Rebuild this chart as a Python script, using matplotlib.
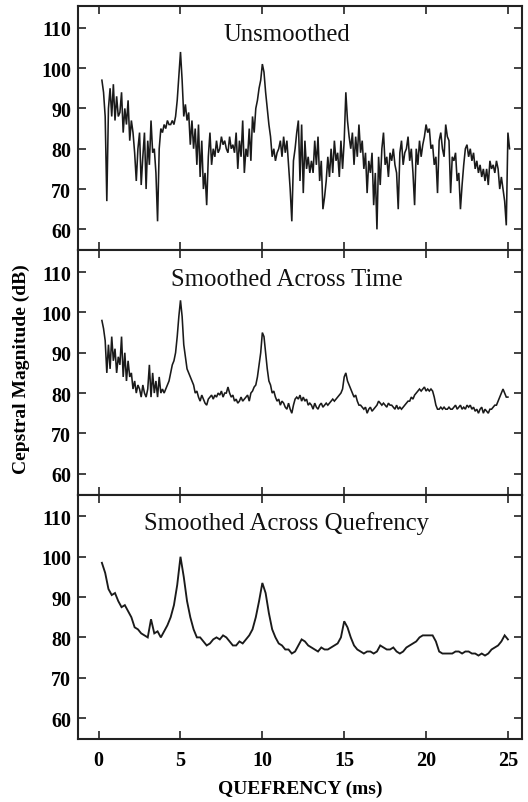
import numpy as np
import matplotlib
matplotlib.use("Agg")
import matplotlib.pyplot as plt

# ---------------- data ----------------
panel_titles = ["Unsmoothed", "Smoothed Across Time", "Smoothed Across Quefrency"]
x_ticks = [0, 5, 10, 15, 20, 25]
y_ticks = [60, 70, 80, 90, 100, 110]

# Unsmoothed cepstrum, samples every 0.1 ms starting at 0.2 ms
unsmoothed = [
    97, 94, 88, 67, 90, 95, 88, 96,
    87, 93, 88, 89, 94, 84, 90, 86, 92, 82,
    87, 84, 79, 72, 80, 84, 71, 78, 84, 70,
    82, 76, 87, 79, 80, 74, 62, 80, 85, 84,
    86, 85, 87, 86, 86, 87, 86, 88, 92, 98,
    104, 97, 88, 91, 87, 89, 81, 87, 80, 85,
    76, 86, 73, 82, 70, 74, 66, 78, 84, 76,
    80, 78, 82, 79, 80, 83, 81, 82, 80, 79,
    83, 80, 81, 79, 84, 75, 82, 78, 87, 74,
    80, 78, 85, 77, 88, 84, 90, 92, 95, 97,
    101, 99, 94, 90, 86, 83, 78, 80, 77, 79,
    80, 82, 78, 83, 79, 82, 76, 70, 62, 77,
    80, 84, 87, 72, 86, 69, 82, 75, 78, 74,
    77, 74, 82, 76, 83, 72, 77, 65, 68, 72,
    78, 73, 80, 74, 82, 77, 79, 73, 82, 75,
    82, 94, 87, 83, 80, 84, 76, 83, 78, 86,
    79, 82, 75, 79, 69, 77, 74, 79, 66, 74,
    60, 78, 71, 80, 84, 76, 78, 73, 79, 77,
    80, 76, 74, 65, 79, 82, 76, 79, 80, 83,
    77, 80, 74, 66, 80, 76, 82, 78, 81, 83,
    86, 84, 85, 80, 81, 76, 78, 69, 82, 84,
    80, 78, 86, 83, 82, 69, 78, 77, 79, 72,
    74, 65, 71, 76, 80, 81, 78, 80, 77, 79,
    75, 77, 74, 76, 73, 75, 72, 75, 71, 77,
    75, 76, 74, 77, 75, 70, 73, 70, 67, 61,
    84, 80,
]

# Smoothed across time, samples every 0.1 ms starting at 0.2 ms
smoothed_time = [
    98, 96, 93, 85, 92, 86, 94, 88,
    91, 85, 89, 87, 94, 84, 90, 83, 88, 84,
    85, 81, 83, 80, 82, 81, 79, 82, 80, 79,
    81, 87, 79, 85, 80, 83, 79, 84, 80, 81,
    80, 81, 82, 83, 85, 87, 88, 90, 94, 99,
    103, 99, 92, 89, 86, 85, 84, 83, 82, 80,
    80.5, 79, 78, 79.5, 78.5, 77.5, 77, 78.5, 79, 79.5,
    78.5, 79.5, 79, 80, 79.5, 80.5, 79, 80, 80, 81.5,
    80, 79, 79.5, 78, 78.5, 77.5, 78, 79, 78, 78.5,
    79, 79.5, 78, 80, 80.5, 81.5, 82, 84, 87, 90,
    95, 94, 90, 86, 83, 82, 80, 80.5, 79, 78,
    78.5, 77, 78, 77.5, 76.5, 76, 77.5, 76, 75, 77,
    78.5, 79, 78.5, 79.5, 78, 79, 78, 78.5, 77, 77.5,
    77, 76, 77.5, 76.5, 76, 77, 77.5, 76.5, 77, 77.5,
    77, 77.5, 78, 78.5, 78, 78.5, 79, 79.5, 80, 81,
    84, 85, 83, 82, 81, 80, 79, 79.5, 78, 77,
    77, 76.5, 76, 76.5, 75, 76, 76.5, 75.5, 76, 76.5,
    77, 78, 77.5, 77, 77.5, 77, 76.5, 77.5, 77, 77,
    76.5, 76, 77, 76, 76.5, 76, 76.5, 77, 77.5, 78,
    78, 79, 78.5, 79.5, 80, 80.5, 81, 80.5, 81, 81.5,
    80.5, 81, 80.5, 81, 80.5, 79, 77, 76, 76, 76.5,
    76, 76.5, 76, 76, 76.5, 76, 76, 76.5, 77, 76,
    76.5, 77, 76, 76.5, 76, 77, 76.5, 77, 76, 76.5,
    75.5, 76, 75, 76, 76.5, 75, 76, 75.5, 75, 76,
    76, 76.5, 77, 77, 78, 79, 80, 81, 80, 79,
    79,
]

# Smoothed across quefrency, samples every 0.2 ms starting at 0.2 ms
smoothed_quef = [
    98.5, 96, 92, 90.5,
    91, 89, 87.5, 88, 86.5,
    85, 82.5, 82, 81, 80.5,
    80, 84.5, 81, 81.5, 80,
    81.5, 83, 85, 88, 93,
    100, 95, 89, 85, 82,
    80, 80, 79, 78, 78.5,
    79.5, 80, 79.5, 80.5, 80,
    79, 78, 78, 79, 78.5,
    79.5, 80.5, 82, 85, 89,
    93.5, 91, 86, 82, 80,
    78.5, 78, 77, 77, 76,
    76.5, 78, 79.5, 79, 78,
    77.5, 77, 76.5, 77.5, 77,
    77, 77.5, 78, 78.5, 80,
    84, 82.5, 80, 78, 77,
    76.5, 76, 76.5, 76.5, 76,
    76.5, 78, 77.5, 77, 77,
    77.5, 76.5, 76, 76.5, 77.5,
    78, 78.5, 79, 80, 80.5,
    80.5, 80.5, 80.5, 79, 76.5,
    76, 76, 76, 76, 76.5,
    76.5, 76, 76.5, 76.5, 76,
    76, 75.5, 76, 75.5, 76,
    77, 77.5, 78, 79, 80.5,
    79.5,
]

x_start = 0.2
step_fine = 0.1
step_coarse = 0.2

series = [
    (x_start + step_fine * np.arange(len(unsmoothed)), unsmoothed, 1.15),
    (x_start + step_fine * np.arange(len(smoothed_time)), smoothed_time, 1.15),
    (x_start + step_coarse * np.arange(len(smoothed_quef)), smoothed_quef, 1.35),
]

# ---------------- figure ----------------
serif = ["Liberation Serif", "DejaVu Serif"]
plt.rcParams["font.family"] = serif

fig = plt.figure(figsize=(5.28, 8.03), dpi=100)
fig.patch.set_facecolor("white")

left, right = 78 / 528, 522 / 528
top_px, bottom_px = 7, 740
panel_h = (bottom_px - top_px) / 3

axes = []
for i in range(3):
    y0 = 1 - (top_px + panel_h * (i + 1)) / 803
    ax = fig.add_axes([left, y0, right - left, panel_h / 803])
    axes.append(ax)

for i, (ax, (xs, ys, lw)) in enumerate(zip(axes, series)):
    ax.plot(xs, ys, color="#1a1a1a", lw=lw, solid_joinstyle="miter")
    ax.set_xlim(-1.26, 25.86)
    ax.set_ylim(54.8, 115.4)
    ax.set_xticks(x_ticks)
    ax.set_yticks(y_ticks)
    ax.tick_params(direction="in", length=6, width=1.2, top=True, right=True,
                   color="#222222")
    ax.tick_params(axis="y", pad=5, labelsize=14.5)
    ax.tick_params(axis="x", pad=8, labelsize=14.5)
    for lab in ax.get_yticklabels() + ax.get_xticklabels():
        lab.set_fontweight("bold")
    for sp in ax.spines.values():
        sp.set_linewidth(1.5)
        sp.set_color("#222222")
    ax.text(11.5, 106.9, panel_titles[i], ha="center", va="baseline",
            fontsize=17.8, color="#111111")
    if i < 2:
        ax.tick_params(labelbottom=False)

axes[2].set_xlabel("QUEFRENCY (ms)", fontsize=14, fontweight="bold", labelpad=7)
fig.text(21 / 528, 1 - 369 / 803, "Cepstral Magnitude (dB)", rotation=90,
         ha="center", va="center", fontsize=14, fontweight="bold")

fig.savefig("out.png", dpi=100, facecolor="white")
